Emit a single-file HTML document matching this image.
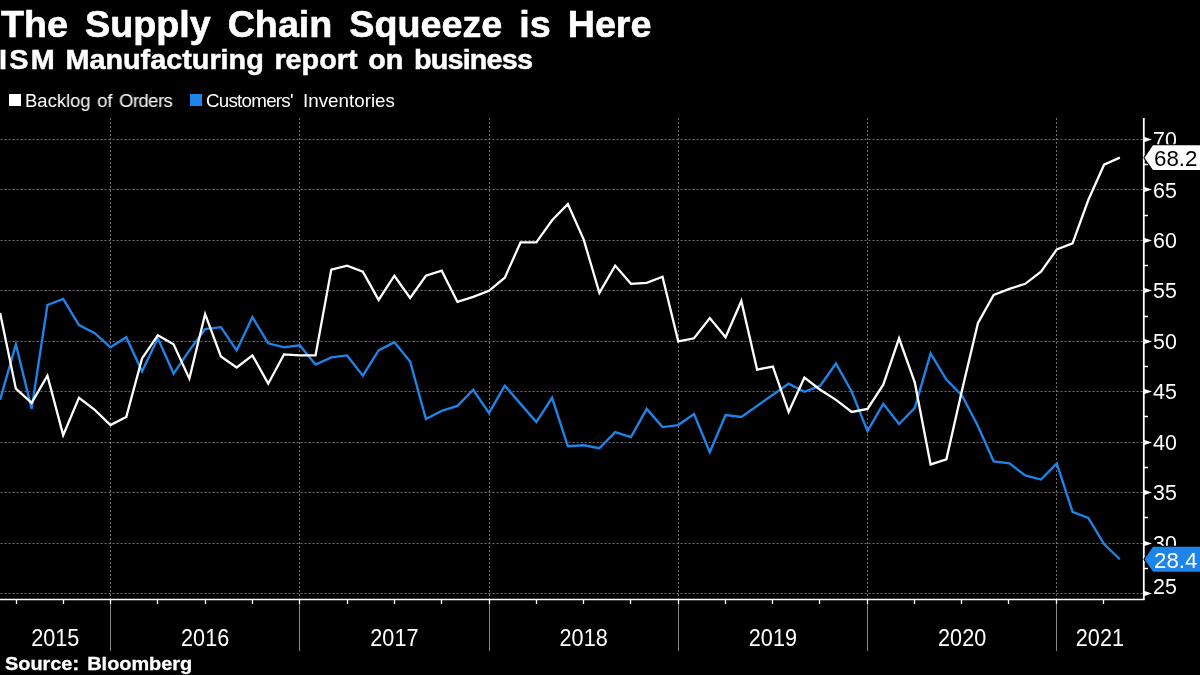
<!DOCTYPE html>
<html><head><meta charset="utf-8">
<style>
html,body{margin:0;padding:0;background:#000;width:1200px;height:675px;overflow:hidden;}
.t,.legt,svg{will-change:transform;}
body{position:relative;font-family:"Liberation Sans",sans-serif;color:#fff;}
.t{position:absolute;white-space:nowrap;}
.t{transform-origin:0 0;}
#title{-webkit-text-stroke:0.6px #fff;left:1px;top:3px;font-size:37.5px;font-weight:bold;line-height:42px;word-spacing:6.5px;transform:scaleX(1.005);}
#sub{-webkit-text-stroke:0.5px #fff;left:-1px;top:45px;font-size:27.5px;font-weight:bold;line-height:30px;word-spacing:2.5px;transform:scaleX(1.047);}
#src{-webkit-text-stroke:0.3px #fff;left:5px;top:653px;font-size:18.5px;font-weight:bold;line-height:22px;word-spacing:2.5px;transform:scaleX(1.075);}
.leg{position:absolute;top:94px;width:12px;height:12px;}
.legt{position:absolute;top:90px;font-size:18.5px;line-height:22px;white-space:nowrap;transform-origin:0 0;transform:scaleX(1.01);}
svg{position:absolute;left:0;top:0;}
.yl{font-family:"Liberation Sans",sans-serif;font-size:23px;fill:#fff;}
.vl{font-family:"Liberation Sans",sans-serif;font-size:23px;}
.xl{font-family:"Liberation Sans",sans-serif;font-size:23px;fill:#fff;}
</style></head><body>
<div id="title" class="t">The Supply Chain Squeeze is Here</div>
<div id="sub" class="t"><span style="letter-spacing:2.2px;margin-right:-2.2px">ISM</span> Manufacturing report on <span style="letter-spacing:-0.8px">business</span></div>
<div class="leg" style="left:9px;background:#fff"></div>
<div class="legt" style="left:25px;transform:scaleX(0.995);word-spacing:1.5px">Backlog of <span style="letter-spacing:-0.5px">Orders</span></div>
<div class="leg" style="left:190px;background:#1d84e9"></div>
<div class="legt" style="left:206px;transform:scaleX(1.015);word-spacing:5px"><span style="letter-spacing:-0.75px">Customers'</span> Inventories</div>
<svg width="1200" height="675" viewBox="0 0 1200 675">
<line x1="0" y1="593.5" x2="1143" y2="593.5" stroke="#6e6e6e" stroke-width="1" stroke-dasharray="2,2" stroke-dashoffset="-0.5"/>
<line x1="0" y1="543.5" x2="1143" y2="543.5" stroke="#6e6e6e" stroke-width="1" stroke-dasharray="2,2" stroke-dashoffset="-0.5"/>
<line x1="0" y1="492.5" x2="1143" y2="492.5" stroke="#6e6e6e" stroke-width="1" stroke-dasharray="2,2" stroke-dashoffset="-0.5"/>
<line x1="0" y1="442.5" x2="1143" y2="442.5" stroke="#6e6e6e" stroke-width="1" stroke-dasharray="2,2" stroke-dashoffset="-0.5"/>
<line x1="0" y1="391.5" x2="1143" y2="391.5" stroke="#6e6e6e" stroke-width="1" stroke-dasharray="2,2" stroke-dashoffset="-0.5"/>
<line x1="0" y1="341.5" x2="1143" y2="341.5" stroke="#6e6e6e" stroke-width="1" stroke-dasharray="2,2" stroke-dashoffset="-0.5"/>
<line x1="0" y1="290.5" x2="1143" y2="290.5" stroke="#6e6e6e" stroke-width="1" stroke-dasharray="2,2" stroke-dashoffset="-0.5"/>
<line x1="0" y1="240.5" x2="1143" y2="240.5" stroke="#6e6e6e" stroke-width="1" stroke-dasharray="2,2" stroke-dashoffset="-0.5"/>
<line x1="0" y1="189.5" x2="1143" y2="189.5" stroke="#6e6e6e" stroke-width="1" stroke-dasharray="2,2" stroke-dashoffset="-0.5"/>
<line x1="0" y1="139.5" x2="1143" y2="139.5" stroke="#6e6e6e" stroke-width="1" stroke-dasharray="2,2" stroke-dashoffset="-0.5"/>
<line x1="110.5" y1="118" x2="110.5" y2="599" stroke="#6e6e6e" stroke-width="1" stroke-dasharray="2,2"/>
<line x1="110.5" y1="600" x2="110.5" y2="651" stroke="#858585" stroke-width="1"/>
<line x1="299.5" y1="118" x2="299.5" y2="599" stroke="#6e6e6e" stroke-width="1" stroke-dasharray="2,2"/>
<line x1="299.5" y1="600" x2="299.5" y2="651" stroke="#858585" stroke-width="1"/>
<line x1="489.5" y1="118" x2="489.5" y2="599" stroke="#6e6e6e" stroke-width="1" stroke-dasharray="2,2"/>
<line x1="489.5" y1="600" x2="489.5" y2="651" stroke="#858585" stroke-width="1"/>
<line x1="678.5" y1="118" x2="678.5" y2="599" stroke="#6e6e6e" stroke-width="1" stroke-dasharray="2,2"/>
<line x1="678.5" y1="600" x2="678.5" y2="651" stroke="#858585" stroke-width="1"/>
<line x1="867.5" y1="118" x2="867.5" y2="599" stroke="#6e6e6e" stroke-width="1" stroke-dasharray="2,2"/>
<line x1="867.5" y1="600" x2="867.5" y2="651" stroke="#858585" stroke-width="1"/>
<line x1="1056.5" y1="118" x2="1056.5" y2="599" stroke="#6e6e6e" stroke-width="1" stroke-dasharray="2,2"/>
<line x1="1056.5" y1="600" x2="1056.5" y2="651" stroke="#858585" stroke-width="1"/>
<line x1="16.5" y1="599" x2="16.5" y2="604" stroke="#fff" stroke-width="1.3"/>
<line x1="63.5" y1="599" x2="63.5" y2="604" stroke="#fff" stroke-width="1.3"/>
<line x1="110.5" y1="599" x2="110.5" y2="604" stroke="#fff" stroke-width="1.3"/>
<line x1="157.5" y1="599" x2="157.5" y2="604" stroke="#fff" stroke-width="1.3"/>
<line x1="205.5" y1="599" x2="205.5" y2="604" stroke="#fff" stroke-width="1.3"/>
<line x1="252.5" y1="599" x2="252.5" y2="604" stroke="#fff" stroke-width="1.3"/>
<line x1="299.5" y1="599" x2="299.5" y2="604" stroke="#fff" stroke-width="1.3"/>
<line x1="347.5" y1="599" x2="347.5" y2="604" stroke="#fff" stroke-width="1.3"/>
<line x1="394.5" y1="599" x2="394.5" y2="604" stroke="#fff" stroke-width="1.3"/>
<line x1="441.5" y1="599" x2="441.5" y2="604" stroke="#fff" stroke-width="1.3"/>
<line x1="489.5" y1="599" x2="489.5" y2="604" stroke="#fff" stroke-width="1.3"/>
<line x1="536.5" y1="599" x2="536.5" y2="604" stroke="#fff" stroke-width="1.3"/>
<line x1="583.5" y1="599" x2="583.5" y2="604" stroke="#fff" stroke-width="1.3"/>
<line x1="630.5" y1="599" x2="630.5" y2="604" stroke="#fff" stroke-width="1.3"/>
<line x1="678.5" y1="599" x2="678.5" y2="604" stroke="#fff" stroke-width="1.3"/>
<line x1="725.5" y1="599" x2="725.5" y2="604" stroke="#fff" stroke-width="1.3"/>
<line x1="772.5" y1="599" x2="772.5" y2="604" stroke="#fff" stroke-width="1.3"/>
<line x1="819.5" y1="599" x2="819.5" y2="604" stroke="#fff" stroke-width="1.3"/>
<line x1="867.5" y1="599" x2="867.5" y2="604" stroke="#fff" stroke-width="1.3"/>
<line x1="914.5" y1="599" x2="914.5" y2="604" stroke="#fff" stroke-width="1.3"/>
<line x1="961.5" y1="599" x2="961.5" y2="604" stroke="#fff" stroke-width="1.3"/>
<line x1="1008.5" y1="599" x2="1008.5" y2="604" stroke="#fff" stroke-width="1.3"/>
<line x1="1056.5" y1="599" x2="1056.5" y2="604" stroke="#fff" stroke-width="1.3"/>
<line x1="1103.5" y1="599" x2="1103.5" y2="604" stroke="#fff" stroke-width="1.3"/>
<line x1="0" y1="599.5" x2="1144.5" y2="599.5" stroke="#fff" stroke-width="1.6"/>
<line x1="1143.8" y1="118" x2="1143.8" y2="600" stroke="#fff" stroke-width="1.8"/>
<path d="M1143,590.50 L1152,593.50 L1143,596.50 Z" fill="#fff"/>
<path d="M1143,540.50 L1152,543.50 L1143,546.50 Z" fill="#fff"/>
<path d="M1143,489.50 L1152,492.50 L1143,495.50 Z" fill="#fff"/>
<path d="M1143,439.50 L1152,442.50 L1143,445.50 Z" fill="#fff"/>
<path d="M1143,388.50 L1152,391.50 L1143,394.50 Z" fill="#fff"/>
<path d="M1143,338.50 L1152,341.50 L1143,344.50 Z" fill="#fff"/>
<path d="M1143,287.50 L1152,290.50 L1143,293.50 Z" fill="#fff"/>
<path d="M1143,237.50 L1152,240.50 L1143,243.50 Z" fill="#fff"/>
<path d="M1143,186.50 L1152,189.50 L1143,192.50 Z" fill="#fff"/>
<path d="M1143,136.50 L1152,139.50 L1143,142.50 Z" fill="#fff"/>
<line x1="1143" y1="568.5" x2="1148" y2="568.5" stroke="#fff" stroke-width="1.5"/>
<line x1="1143" y1="517.5" x2="1148" y2="517.5" stroke="#fff" stroke-width="1.5"/>
<line x1="1143" y1="467.5" x2="1148" y2="467.5" stroke="#fff" stroke-width="1.5"/>
<line x1="1143" y1="416.5" x2="1148" y2="416.5" stroke="#fff" stroke-width="1.5"/>
<line x1="1143" y1="366.5" x2="1148" y2="366.5" stroke="#fff" stroke-width="1.5"/>
<line x1="1143" y1="316.5" x2="1148" y2="316.5" stroke="#fff" stroke-width="1.5"/>
<line x1="1143" y1="265.5" x2="1148" y2="265.5" stroke="#fff" stroke-width="1.5"/>
<line x1="1143" y1="215.5" x2="1148" y2="215.5" stroke="#fff" stroke-width="1.5"/>
<line x1="1143" y1="164.5" x2="1148" y2="164.5" stroke="#fff" stroke-width="1.5"/>
<text transform="translate(1153,594.15) scale(0.93,1)" class="yl">25</text>
<text transform="translate(1153,550.70) scale(0.93,1)" class="yl">30</text>
<text transform="translate(1153,500.25) scale(0.93,1)" class="yl">35</text>
<text transform="translate(1153,449.80) scale(0.93,1)" class="yl">40</text>
<text transform="translate(1153,399.35) scale(0.93,1)" class="yl">45</text>
<text transform="translate(1153,348.90) scale(0.93,1)" class="yl">50</text>
<text transform="translate(1153,298.45) scale(0.93,1)" class="yl">55</text>
<text transform="translate(1153,248.00) scale(0.93,1)" class="yl">60</text>
<text transform="translate(1153,197.55) scale(0.93,1)" class="yl">65</text>
<text transform="translate(1153,147.10) scale(0.93,1)" class="yl">70</text>
<polyline points="0.10,399.82 15.87,344.33 31.64,408.90 47.42,304.98 63.19,298.92 78.96,325.16 94.73,333.23 110.50,347.35 126.27,337.26 142.04,371.57 157.81,338.27 173.58,373.59 189.36,350.38 205.13,329.19 220.90,327.17 236.67,350.38 252.44,317.08 268.21,343.32 283.98,347.35 299.75,345.34 315.52,364.51 331.29,357.44 347.06,355.43 362.84,375.61 378.61,350.38 394.38,342.31 410.15,361.48 425.92,418.99 441.69,410.92 457.46,405.88 473.23,389.73 489.00,412.94 504.78,385.70 520.55,403.86 536.32,422.02 552.09,397.80 567.86,446.24 583.63,445.23 599.40,448.25 615.17,432.11 630.94,437.15 646.71,408.90 662.49,427.06 678.26,425.05 694.03,413.95 709.80,452.29 725.57,414.96 741.34,416.98 757.11,405.88 772.88,394.78 788.65,383.68 804.42,391.75 820.20,385.70 835.97,363.50 851.74,391.75 867.51,431.10 883.28,403.86 899.05,424.04 914.82,407.89 930.59,353.41 946.36,379.64 962.13,395.79 977.91,426.06 993.68,461.37 1009.45,463.39 1025.22,475.50 1040.99,479.53 1056.76,463.39 1072.53,511.82 1088.30,517.88 1104.07,544.11 1119.84,559.24" fill="none" stroke="#1d84e9" stroke-width="2.35" stroke-linejoin="miter" stroke-linecap="butt"/>
<polyline points="0.10,313.05 15.87,388.72 31.64,402.85 47.42,375.61 63.19,435.14 78.96,397.80 94.73,409.91 110.50,425.05 126.27,416.98 142.04,358.45 157.81,335.25 173.58,344.33 189.36,378.63 205.13,314.06 220.90,356.44 236.67,367.53 252.44,355.43 268.21,383.68 283.98,354.42 299.75,355.43 315.52,355.43 331.29,269.66 347.06,265.62 362.84,271.68 378.61,299.93 394.38,275.72 410.15,297.91 425.92,275.72 441.69,270.67 457.46,301.95 473.23,296.90 489.00,290.85 504.78,277.73 520.55,242.42 536.32,242.42 552.09,220.22 567.86,204.08 583.63,239.39 599.40,292.87 615.17,265.62 630.94,283.79 646.71,282.78 662.49,276.72 678.26,341.30 694.03,338.27 709.80,318.09 725.57,337.26 741.34,300.94 757.11,369.55 772.88,366.52 788.65,411.93 804.42,377.62 820.20,389.73 835.97,399.82 851.74,411.93 867.51,408.90 883.28,384.69 899.05,338.27 914.82,382.67 930.59,464.40 946.36,459.35 962.13,389.73 977.91,323.14 993.68,294.89 1009.45,288.83 1025.22,283.79 1040.99,271.68 1056.76,249.48 1072.53,243.43 1088.30,200.04 1104.07,164.72 1119.84,157.66" fill="none" stroke="#fff" stroke-width="2.3" stroke-linejoin="miter" stroke-linecap="butt"/>
<path d="M1144.5,157.66 L1153,145.26 L1201,145.26 L1201,170.06 L1153,170.06 Z" fill="#fff" stroke="#000" stroke-width="2" paint-order="stroke"/><text transform="translate(1154,166.16) scale(0.97,1)" class="vl" fill="#000">68.2</text>
<path d="M1144.5,559.24 L1153,546.84 L1201,546.84 L1201,571.64 L1153,571.64 Z" fill="#1d84e9" stroke="#000" stroke-width="2" paint-order="stroke"/><text transform="translate(1154,567.74) scale(0.97,1)" class="vl" fill="#fff">28.4</text>
<text transform="translate(55.25,646.3) scale(0.94,1)" class="xl" text-anchor="middle">2015</text>
<text transform="translate(205.13,646.3) scale(0.94,1)" class="xl" text-anchor="middle">2016</text>
<text transform="translate(394.38,646.3) scale(0.94,1)" class="xl" text-anchor="middle">2017</text>
<text transform="translate(583.63,646.3) scale(0.94,1)" class="xl" text-anchor="middle">2018</text>
<text transform="translate(772.88,646.3) scale(0.94,1)" class="xl" text-anchor="middle">2019</text>
<text transform="translate(962.13,646.3) scale(0.94,1)" class="xl" text-anchor="middle">2020</text>
<text transform="translate(1099.88,646.3) scale(0.94,1)" class="xl" text-anchor="middle">2021</text>
</svg>
<div id="src" class="t">Source: Bloomberg</div>
</body></html>
